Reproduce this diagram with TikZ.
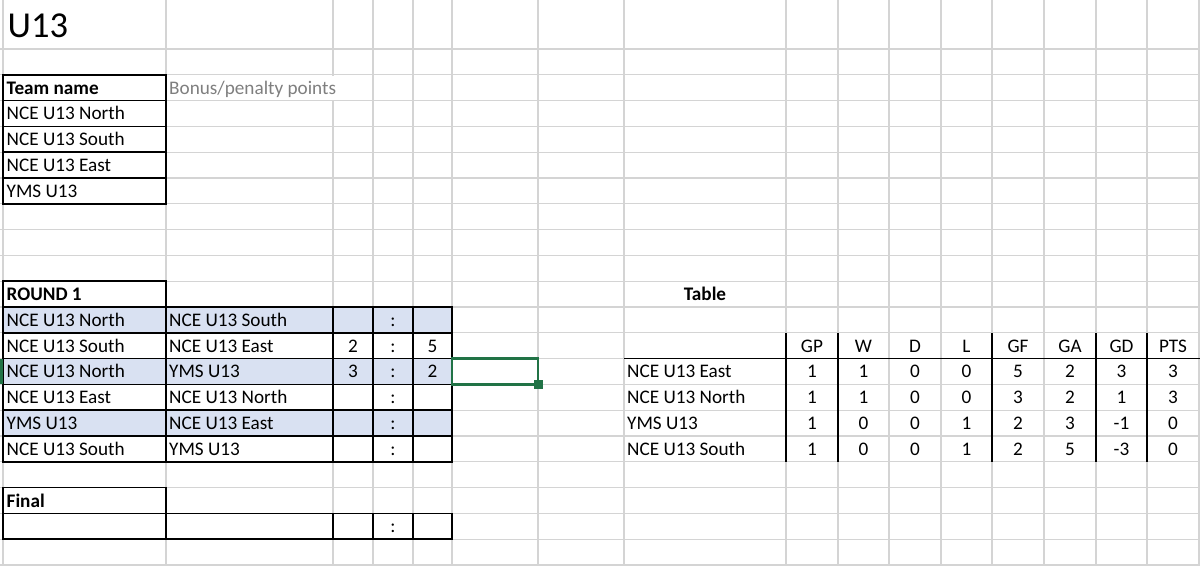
\documentclass[tikz,border=0pt]{standalone}
\usepackage{fontspec}
\setmainfont{Carlito}
\definecolor{gridc}{HTML}{D4D4D4}
\definecolor{band}{HTML}{D9E1F2}
\definecolor{selc}{HTML}{217346}
\definecolor{muted}{HTML}{7F7F7F}
\begin{document}
\begin{tikzpicture}[x=1pt,y=-1pt,
  txt/.style={font=\fontsize{19.2}{21}\selectfont, inner sep=0pt, anchor=base west},
  btxt/.style={txt, font=\fontsize{19.2}{21}\selectfont\bfseries},
  num/.style={font=\fontsize{19.2}{21}\selectfont, inner sep=0pt, anchor=base},
  gridline/.style={draw=gridc, line width=1.1pt},
  border/.style={draw=black, line width=1.5pt}]
\useasboundingbox (0,0) rectangle (1200,566);
\fill[white] (0,0) rectangle (1200,566);
% band fills
\foreach \k in {10,12,14}
  \fill[band] (3,{49+25.8*\k}) rectangle (452,{49+25.8*(\k+1)});
% grid
\foreach \x in {3,166,333,373,413,452,538,624,786,838,889,941,992,1044,1096,1147,1199}
  \draw[gridline] (\x,0) -- (\x,566);
\foreach \k in {0,...,20}
  \draw[gridline] (0,{49+25.8*\k}) -- (1200,{49+25.8*\k});
% overflow of the bonus text hides a grid line
\fill[white] (331,75.6) rectangle (335,99.8);
% team list box
\draw[border] (3,74.8) rectangle (166,203.8);
\foreach \k in {2,...,5} \draw[border] (3,{49+25.8*\k}) -- (166,{49+25.8*\k});
% round 1 box
\draw[border] (3,281.2) rectangle (166,307);
\draw[border] (3,307) rectangle (452,461.8);
\foreach \k in {11,...,15} \draw[border] (3,{49+25.8*\k}) -- (452,{49+25.8*\k});
\foreach \x in {166,333,373,413} \draw[border] (\x,307) -- (\x,461.8);
% final box
\draw[border] (3,487.6) rectangle (166,513.4);
\draw[border] (3,513.4) rectangle (452,539.2);
\foreach \x in {166,333,373,413} \draw[border] (\x,513.4) -- (\x,539.2);
% standings table borders
\draw[border] (624,358.6) -- (1200,358.6);
\foreach \x in {786,838,992,1096,1147} \draw[border] (\x,332.8) -- (\x,461.8);
% selection
\draw[selc, line width=2.6pt] (452,358.6) rectangle (538,384.4);
\fill[selc] (533.5,379.5) rectangle (542.5,388.5);
\fill[selc] (0,358.6) rectangle (2.5,384.4);
% title
\node[font=\fontsize{36.5}{40}\selectfont, inner sep=0pt, anchor=base west] (title) at (7.5,37.5) {U13};
% team list
\node[btxt] (th) at (6.5,94.1) {Team name};
\node[txt, text=muted] (bonus) at (169,94.1) {Bonus/penalty points};
\node[txt] (t1) at (6.5,119.9) {NCE U13 North};
\node[txt] (t2) at (6.5,145.7) {NCE U13 South};
\node[txt] (t3) at (6.5,171.5) {NCE U13 East};
\node[txt] (t4) at (6.5,197.3) {YMS U13};
% round 1
\node[btxt] (r1) at (6.5,300.5) {ROUND 1};
\node[txt] (m1a) at (6.5,326.3) {NCE U13 North};
\node[txt] (m1b) at (169,326.3) {NCE U13 South};
\node[num] (m1c) at (393,326.3) {:};
\node[txt] (m2a) at (6.5,352.1) {NCE U13 South};
\node[txt] (m2b) at (169,352.1) {NCE U13 East};
\node[num] (m2h) at (353,352.1) {2};
\node[num] (m2c) at (393,352.1) {:};
\node[num] (m2g) at (432.5,352.1) {5};
\node[txt] (m3a) at (6.5,377.9) {NCE U13 North};
\node[txt] (m3b) at (169,377.9) {YMS U13};
\node[num] (m3h) at (353,377.9) {3};
\node[num] (m3c) at (393,377.9) {:};
\node[num] (m3g) at (432.5,377.9) {2};
\node[txt] (m4a) at (6.5,403.7) {NCE U13 East};
\node[txt] (m4b) at (169,403.7) {NCE U13 North};
\node[num] (m4c) at (393,403.7) {:};
\node[txt] (m5a) at (6.5,429.5) {YMS U13};
\node[txt] (m5b) at (169,429.5) {NCE U13 East};
\node[num] (m5c) at (393,429.5) {:};
\node[txt] (m6a) at (6.5,455.3) {NCE U13 South};
\node[txt] (m6b) at (169,455.3) {YMS U13};
\node[num] (m6c) at (393,455.3) {:};
% final
\node[btxt] (fin) at (6.5,507.1) {Final};
\node[num] (finc) at (393,532.9) {:};
% standings
\node[num, font=\fontsize{19.2}{21}\selectfont\bfseries] (tab) at (705,300.5) {Table};
\foreach \lab [count=\i] in {GP,W,D,L,GF,GA,GD,PTS}
  \node[num] (h\i) at ({\ifcase\i\or812\or863.5\or915\or966.5\or1018\or1070\or1121.5\or1173\fi},352.1) {\lab};
\foreach \name/\vals [count=\r] in {NCE U13 East/{1,1,0,0,5,2,3,3},NCE U13 North/{1,1,0,0,3,2,1,3},YMS U13/{1,0,0,1,2,3,-1,0},NCE U13 South/{1,0,0,1,2,5,-3,0}} {
  \node[txt] (s\r) at (627,{352.1+25.8*\r}) {\name};
  \foreach \v [count=\c] in \vals
    \node[num] (s\r c\c) at ({\ifcase\c\or812\or863.5\or915\or966.5\or1018\or1070\or1121.5\or1173\fi},{352.1+25.8*\r}) {\v};
}
\end{tikzpicture}
\end{document}
